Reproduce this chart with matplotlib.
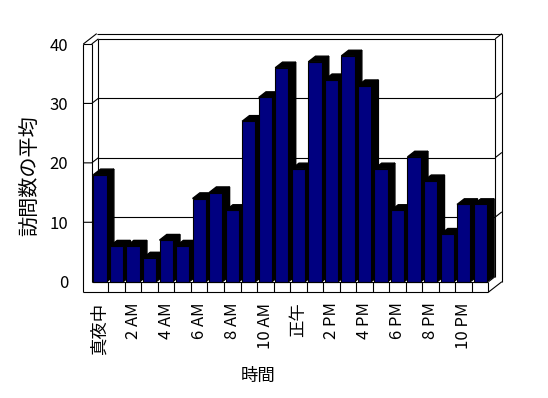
# -*- coding: utf-8 -*-
"""
時間帯ごとの訪問数の平均 (Excel 風の 3D 縦棒グラフ) を matplotlib で再現する。
"""

import matplotlib
matplotlib.use("Agg")
import matplotlib.pyplot as plt
import numpy as np

plt.rcParams["font.family"] = ["Noto Sans CJK JP", "DejaVu Sans"]

# 0 時から 23 時までの訪問数の平均
hours = list(range(24))
visits = [18, 6, 6, 4, 7, 6, 14, 15, 12, 27, 31, 36,
          19, 37, 34, 38, 33, 19, 12, 21, 17, 8, 13, 13]
tick_hours = [0, 2, 4, 6, 8, 10, 12, 14, 16, 18, 20, 22]
tick_labels = ["真夜中", "2 AM", "4 AM", "6 AM", "8 AM", "10 AM",
               "正午", "2 PM", "4 PM", "6 PM", "8 PM", "10 PM"]
y_ticks = [0, 10, 20, 30, 40]

bar_color = "#000080"
line_kw = dict(color="black", lw=0.8, clip_on=False, solid_capstyle="butt")


def draw_line(ax, xs, ys, z=1):
    ax.plot(xs, ys, zorder=z, **line_kw)


def main():
    fig = plt.figure(figsize=(5.48, 3.98), dpi=100)
    # 前面の座標系 (棒の前面 = データ座標)
    ax = fig.add_axes([0.1674, 0.2922, 0.724, 0.5972])
    ax.set_xlim(-0.5, 23.5)
    ax.set_ylim(0, 40)
    for s in ax.spines.values():
        s.set_visible(False)

    # 奥行きのずれ (データ単位) と壁・床の厚み
    dx, dy = 0.405, 0.875
    bdx, bdy = 0.44, 0.95
    x_l, x_r = -0.5, 23.5
    x_wall = x_l - 0.51
    y_top = y_ticks[-1]
    y_floor = -2 * dy

    # 棒: 前面 + 側面 + 上面
    bars = ax.bar(hours, visits, width=0.8, color=bar_color,
                  edgecolor="black", linewidth=0.8)
    for i, patch in enumerate(bars):
        x0 = patch.get_x()
        x1 = x0 + patch.get_width()
        h = patch.get_height()
        z = 3 + i
        ax.fill([x1, x1, x1 + bdx, x1 + bdx], [0, h, h + bdy, bdy],
                color="black", zorder=z, clip_on=False)
        ax.fill([x0, x1, x1 + bdx, x0 + bdx], [h, h, h + bdy, h + bdy],
                color="black", zorder=z, clip_on=False)
        patch.set_zorder(z + 0.5)
        patch.set_clip_on(False)

    # 奥の壁の目盛線と左右の壁の斜線
    for v in y_ticks[1:-1]:
        draw_line(ax, [x_wall, x_l, x_l + dx], [v, v, v + dy])
        draw_line(ax, [x_l + dx, x_r + dx], [v + dy, v + dy])
        draw_line(ax, [x_r + dx, x_r + 2 * dx], [v + dy, v + 2 * dy])

    # 左の壁
    draw_line(ax, [x_wall, x_wall], [y_floor, y_top], z=40)
    draw_line(ax, [x_wall, x_l], [y_top, y_top])
    draw_line(ax, [x_l, x_l], [0, y_top], z=40)
    draw_line(ax, [x_wall, x_wall + 2 * dx], [y_top, y_top + 2 * dy])
    draw_line(ax, [x_l, x_l + dx], [y_top, y_top + dy])

    # 奥の壁
    draw_line(ax, [x_wall + 2 * dx, x_r + 2 * dx], [y_top + 2 * dy] * 2)
    draw_line(ax, [x_l + dx, x_r + dx], [y_top + dy] * 2)
    draw_line(ax, [x_l + dx, x_l + dx], [dy, y_top + dy])
    draw_line(ax, [x_r + dx, x_r + dx], [dy, y_top + dy])
    draw_line(ax, [x_r + dx, x_r + 2 * dx], [y_top + dy, y_top + 2 * dy])
    draw_line(ax, [x_r + 2 * dx, x_r + 2 * dx], [0, y_top + 2 * dy])

    # 床
    draw_line(ax, [x_wall, x_r], [y_floor, y_floor], z=40)
    draw_line(ax, [x_l, x_r], [0, 0], z=40)
    draw_line(ax, [x_r, x_r], [y_floor, 0], z=40)
    draw_line(ax, [x_r, x_r + 2 * dx], [y_floor, 0], z=40)
    draw_line(ax, [x_r, x_r + dx], [0, dy])
    for b in np.arange(x_l + 1, x_r):
        draw_line(ax, [b, b], [y_floor, 0], z=40)

    # 目盛ラベル (漢字のラベルは少し大きめ)
    ax.set_xticks(tick_hours)
    ax.set_xticklabels(tick_labels, rotation=90, fontsize=12)
    for lbl in ax.get_xticklabels():
        if not lbl.get_text()[0].isdigit():
            lbl.set_fontsize(12.5)
    ax.set_yticks(y_ticks)
    ax.tick_params(axis="x", length=0, pad=15)
    ax.tick_params(axis="y", length=0, pad=17, labelsize=12)

    fig.text(30 / 548, 1 - 176 / 398, "訪問数の平均", rotation=90,
             ha="center", va="center", fontsize=14.5)
    fig.text(258 / 548, 1 - 376 / 398, "時間",
             ha="center", va="center", fontsize=12.5)

    fig.savefig("out.png", dpi=100, facecolor="white")
    plt.close(fig)


if __name__ == "__main__":
    main()
